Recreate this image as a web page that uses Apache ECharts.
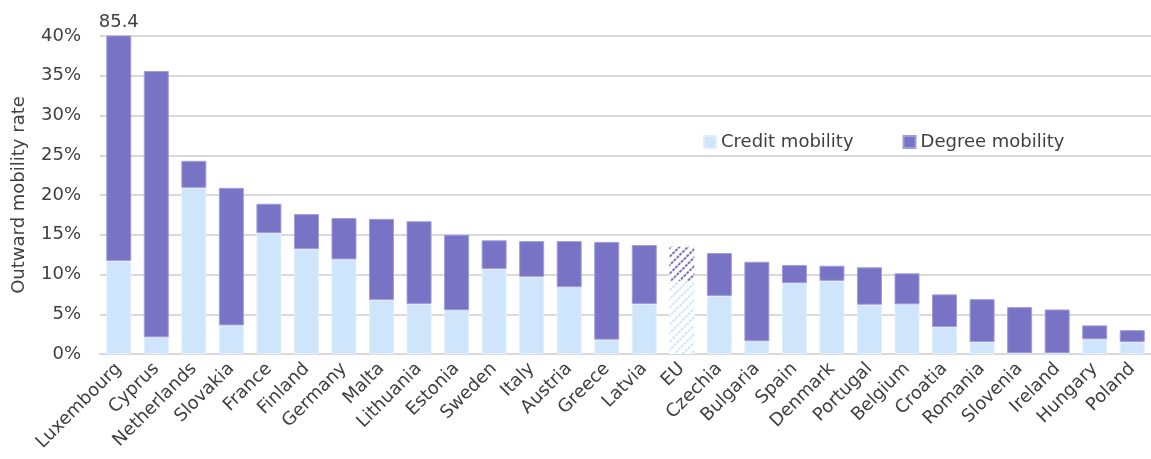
<!DOCTYPE html>
<html>
<head>
<meta charset="utf-8">
<script src="https://cdn.jsdelivr.net/npm/echarts@6/dist/echarts.min.js"></script>
<style>
html,body{margin:0;padding:0;background:#fff;}
#chart{width:1151px;height:459px;}
</style>
</head>
<body>
<div id="chart"></div>
<script>
const categories = ['Luxembourg','Cyprus','Netherlands','Slovakia','France','Finland','Germany','Malta','Lithuania','Estonia','Sweden','Italy','Austria','Greece','Latvia','EU','Czechia','Bulgaria','Spain','Denmark','Portugal','Belgium','Croatia','Romania','Slovenia','Ireland','Hungary','Poland'];
const creditMobility = [11.7, 2.1, 20.9, 3.6, 15.2, 13.2, 11.9, 6.8, 6.3, 5.5, 10.7, 9.7, 8.4, 1.8, 6.3, 9.2, 7.3, 1.6, 8.9, 9.2, 6.2, 6.25, 3.4, 1.5, 0.1, 0.1, 1.85, 1.5];
const degreeMobility = [73.7, 33.5, 3.4, 17.3, 3.7, 4.4, 5.2, 10.2, 10.4, 9.5, 3.6, 4.5, 5.8, 12.3, 7.4, 4.3, 5.4, 10.0, 2.3, 1.9, 4.7, 3.9, 4.1, 5.4, 5.8, 5.5, 1.75, 1.5];
const yTicks = [0, 5, 10, 15, 20, 25, 30, 35, 40];
const highlightCategory = 'EU';
const labelledCategory = 'Luxembourg';

const COL_CREDIT = '#cfe5fb';
const COL_DEGREE = '#7973c6';
const TXT = '#404040';
const FONT = 'DejaVu Sans';

function makeData(values, color) {
  return values.map((v, i) => {
    const item = { value: v };
    if (categories[i] === highlightCategory) {
      item.itemStyle = {
        color: '#ffffff',
        borderWidth: 0,
        decal: {
          symbol: 'rect',
          symbolSize: 1,
          color: color,
          dashArrayX: [[3, 1]],
          dashArrayY: [2, 4],
          rotation: -Math.PI / 4
        }
      };
    }
    return item;
  });
}

const degreeData = makeData(degreeMobility, COL_DEGREE);
degreeData.forEach((d, i) => {
  if (categories[i] === labelledCategory) {
    d.label = {
      show: true,
      position: 'top',
      distance: 4,
      fontFamily: FONT,
      fontSize: 18,
      color: TXT,
      formatter: () => (creditMobility[i] + degreeMobility[i]).toFixed(1)
    };
  }
});

const chart = echarts.init(document.getElementById('chart'), null, { renderer: 'canvas' });
chart.setOption({
  animation: false,
  backgroundColor: '#ffffff',
  textStyle: { fontFamily: FONT },
  grid: { left: 100, right: -14, top: 36, bottom: 105, containLabel: false },
  legend: {
    left: 698,
    top: 128,
    itemWidth: 12,
    itemHeight: 12,
    itemGap: 49,
    icon: 'rect',
    textStyle: { fontFamily: FONT, fontSize: 18, color: TXT },
    data: [
      { name: 'Credit mobility', itemStyle: { color: COL_CREDIT } },
      { name: 'Degree mobility', itemStyle: { color: COL_DEGREE } }
    ]
  },
  xAxis: {
    type: 'category',
    data: categories,
    axisTick: { show: false },
    axisLine: { lineStyle: { color: '#d9d9d9', width: 2 } },
    axisLabel: {
      interval: 0,
      rotate: 45,
      margin: 12,
      fontFamily: FONT,
      fontSize: 18,
      color: TXT
    }
  },
  yAxis: {
    type: 'value',
    min: yTicks[0],
    max: yTicks[yTicks.length - 1],
    interval: yTicks[1] - yTicks[0],
    name: 'Outward mobility rate',
    nameLocation: 'middle',
    nameGap: 72,
    nameTextStyle: { fontFamily: FONT, fontSize: 18, color: TXT },
    axisLine: { show: false },
    axisTick: { show: false },
    axisLabel: { formatter: '{value}%', margin: 19, fontFamily: FONT, fontSize: 18, color: TXT },
    splitLine: { lineStyle: { color: '#d9d9d9', width: 2 } }
  },
  series: [
    {
      name: 'Credit mobility',
      type: 'bar',
      stack: 'total',
      barWidth: 25,
      clip: true,
      itemStyle: { color: COL_CREDIT, borderColor: '#e3effc', borderWidth: 1 },
      data: makeData(creditMobility, COL_CREDIT)
    },
    {
      name: 'Degree mobility',
      type: 'bar',
      stack: 'total',
      barWidth: 25,
      clip: true,
      itemStyle: { color: COL_DEGREE, borderColor: '#a19cdb', borderWidth: 1 },
      data: degreeData
    }
  ]
});
</script>
</body>
</html>
